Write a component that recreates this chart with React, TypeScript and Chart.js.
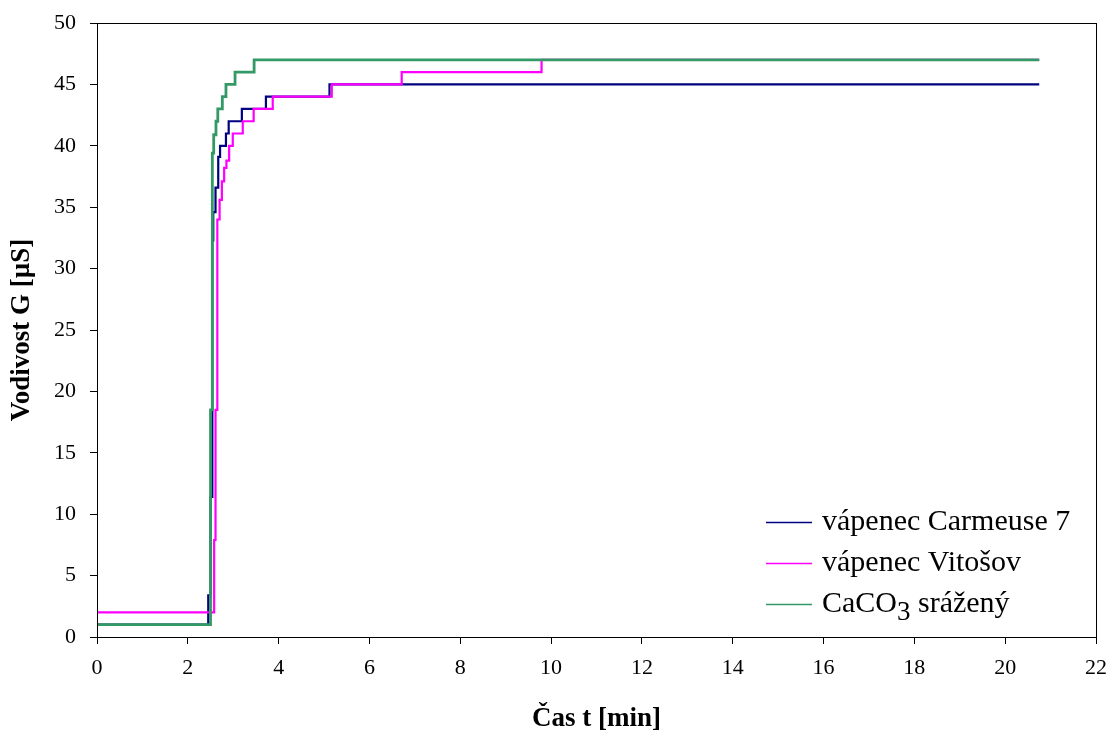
import React, { useEffect, useRef } from "react";
import { Chart, registerables } from "chart.js";

Chart.register(...registerables);

// Data (time in minutes, conductivity in µS); each point = value reached at that time
const carmeuseT = [0, 2.45, 2.5, 2.54, 2.56, 2.61, 2.67, 2.71, 2.84, 2.9, 3.19, 3.72, 5.12, 20.75];
const carmeuseG = [1, 3.4, 11.4, 32.3, 34.6, 36.6, 39.1, 40, 41, 42, 43, 44, 45, 45];

const vitosovT = [0, 2.58, 2.61, 2.65, 2.7, 2.75, 2.8, 2.85, 2.91, 2.99, 3.21, 3.45, 3.87, 5.17, 6.71, 9.79, 20.75];
const vitosovG = [2, 7.9, 18.5, 34, 35.6, 37.1, 38.2, 38.8, 40, 41, 42, 43, 44, 45, 46, 47, 47];

const caco3T = [0, 2.5, 2.54, 2.57, 2.62, 2.66, 2.76, 2.84, 3.04, 3.46, 20.75];
const caco3G = [1, 18.5, 39.4, 40.9, 42, 43, 44, 45, 46, 47, 47];

const seriesLabels = ["vápenec Carmeuse 7", "vápenec Vitošov", "CaCO3 srážený"];
const seriesColors = ["#000080", "#FF00FF", "#339966"];

const xTitle = "Čas t [min]";
const yTitle = "Vodivost G [µS]";

const toPoints = (t: number[], g: number[]) => t.map((x, i) => ({ x, y: g[i] }));

const SERIF = "'Liberation Serif', 'Times New Roman', serif";
const LEGEND_SIZE = 30;

const frameAndLegend = {
  id: "frameAndLegend",
  afterDatasetsDraw(chart: any) {
    const { ctx, chartArea } = chart;
    ctx.save();
    ctx.strokeStyle = "#000";
    ctx.lineWidth = 1;
    ctx.strokeRect(
      Math.round(chartArea.left) + 0.5,
      Math.round(chartArea.top) + 0.5,
      Math.round(chartArea.right - chartArea.left),
      Math.round(chartArea.bottom - chartArea.top)
    );
    // legend (inside plot, bottom right)
    const x0 = chartArea.right - 330;
    const lineLen = 46;
    const rows = [chartArea.bottom - 115, chartArea.bottom - 74, chartArea.bottom - 33];
    ctx.font = `${LEGEND_SIZE}px ${SERIF}`;
    ctx.textBaseline = "middle";
    ctx.textAlign = "left";
    chart.data.datasets.forEach((ds: any, i: number) => {
      const y = Math.round(rows[i]) + 0.5;
      ctx.strokeStyle = ds.borderColor;
      ctx.lineWidth = 1.5;
      ctx.beginPath();
      ctx.moveTo(x0, y);
      ctx.lineTo(x0 + lineLen, y);
      ctx.stroke();
      ctx.fillStyle = "#000";
      const tx = x0 + lineLen + 10;
      const label: string = ds.label;
      if (label.startsWith("CaCO3")) {
        const a = "CaCO";
        ctx.fillText(a, tx, y);
        const w1 = ctx.measureText(a).width;
        ctx.font = `${LEGEND_SIZE - 3}px ${SERIF}`;
        ctx.fillText("3", tx + w1, y + 8);
        const w2 = ctx.measureText("3").width;
        ctx.font = `${LEGEND_SIZE}px ${SERIF}`;
        ctx.fillText(label.slice(5), tx + w1 + w2, y);
      } else {
        ctx.fillText(label, tx, y);
      }
    });
    ctx.restore();
  },
};

export default function App() {
  const canvasRef = useRef<HTMLCanvasElement | null>(null);

  useEffect(() => {
    if (!canvasRef.current) return;
    const chart = new Chart(canvasRef.current, {
      type: "line",
      data: {
        datasets: [
          {
            label: seriesLabels[0],
            data: toPoints(carmeuseT, carmeuseG),
            borderColor: seriesColors[0],
            borderWidth: 2.2,
            pointRadius: 0,
            stepped: "before",
            order: 3,
          },
          {
            label: seriesLabels[1],
            data: toPoints(vitosovT, vitosovG),
            borderColor: seriesColors[1],
            borderWidth: 2.2,
            pointRadius: 0,
            stepped: "before",
            order: 2,
          },
          {
            label: seriesLabels[2],
            data: toPoints(caco3T, caco3G),
            borderColor: seriesColors[2],
            borderWidth: 2.8,
            pointRadius: 0,
            stepped: "before",
            order: 1,
          },
        ],
      },
      options: {
        animation: false,
        responsive: true,
        maintainAspectRatio: false,
        layout: { padding: { top: 23, right: 15, left: 0, bottom: 0 } },
        plugins: {
          legend: { display: false },
          tooltip: { enabled: false },
        },
        scales: {
          x: {
            type: "linear",
            min: 0,
            max: 22,
            afterFit: (s: any) => {
              s.height = 103;
              s.paddingLeft = 0;
              s.paddingRight = 0;
            },
            grid: { drawOnChartArea: false, drawTicks: true, tickLength: 7, color: "#000" },
            border: { display: true, color: "#000" },
            ticks: {
              stepSize: 2,
              color: "#000",
              padding: 11,
              maxRotation: 0,
              font: { family: SERIF, size: 22 },
            },
            title: {
              display: true,
              text: xTitle,
              color: "#000",
              font: { family: SERIF, size: 27, weight: "bold" },
              padding: { top: 0, bottom: 5 },
            },
          },
          y: {
            type: "linear",
            min: 0,
            max: 50,
            afterFit: (s: any) => {
              s.width = 97;
              s.paddingTop = 0;
              s.paddingBottom = 0;
            },
            grid: { drawOnChartArea: false, drawTicks: true, tickLength: 7, color: "#000" },
            border: { display: true, color: "#000" },
            ticks: {
              stepSize: 5,
              color: "#000",
              padding: 14,
              font: { family: SERIF, size: 22 },
            },
            title: {
              display: true,
              text: yTitle,
              color: "#000",
              font: { family: SERIF, size: 27, weight: "bold" },
              padding: { top: 6, bottom: 0 },
            },
          },
        },
      },
      plugins: [frameAndLegend],
    });
    return () => chart.destroy();
  }, []);

  return (
    <div style={{ position: "absolute", left: 0, top: 0, width: 1111, height: 740, background: "#fff" }}>
      <canvas ref={canvasRef} />
    </div>
  );
}
